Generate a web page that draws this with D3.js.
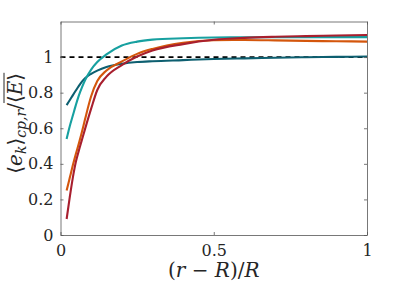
<!DOCTYPE html>
<html>
<head>
<meta charset="utf-8">
<script src="https://d3js.org/d3.v7.min.js"></script>
<style>
body { margin: 0; background: #fff; }
svg { display: block; }
.tick text { font-family: 'DejaVu Serif', serif; font-size: 16px; fill: #262626; }
.lab { font-family: 'DejaVu Serif', serif; fill: #262626; }
</style>
</head>
<body>
<div id="plot"></div>
<script>

var xVals = [0.02, 0.03, 0.04, 0.05, 0.06, 0.07, 0.08, 0.10, 0.12, 0.15, 0.20, 0.25, 0.30, 0.40, 0.50, 0.60, 0.70, 0.80, 0.90, 1.00];
var darkTeal = [0.73, 0.757, 0.785, 0.812, 0.838, 0.862, 0.881, 0.906, 0.924, 0.944, 0.962, 0.972, 0.977, 0.983, 0.989, 0.993, 0.996, 0.999, 1.001, 1.003];
var lightTeal = [0.54, 0.61, 0.67, 0.73, 0.785, 0.83, 0.87, 0.93, 0.972, 1.015, 1.065, 1.087, 1.098, 1.106, 1.110, 1.111, 1.112, 1.112, 1.112, 1.112];
var orange = [0.25, 0.32, 0.39, 0.455, 0.515, 0.58, 0.65, 0.78, 0.865, 0.925, 0.975, 1.018, 1.046, 1.081, 1.095, 1.096, 1.094, 1.091, 1.089, 1.087];
var red = [0.09, 0.21, 0.32, 0.41, 0.475, 0.535, 0.595, 0.71, 0.815, 0.89, 0.955, 1.003, 1.037, 1.073, 1.097, 1.108, 1.114, 1.118, 1.121, 1.124];

var seriesNames = ["darkTeal", "lightTeal", "orange", "red"];
var seriesValues = [darkTeal, lightTeal, orange, red];
var seriesColors = ["#0d5f70", "#17a0a0", "#d4560c", "#a81f2e"];

var xTicks = [0, 0.5, 1];
var xTickLabels = ["0", "0.5", "1"];
var yTicks = [0, 0.2, 0.4, 0.6, 0.8, 1];
var yTickLabels = ["0", "0.2", "0.4", "0.6", "0.8", "1"];
var refLevel = 1;

var width = 407, height = 291;
var plotLeft = 60.5, plotRight = 367, plotTop = 21.5, plotBottom = 235;

var svg = d3.select("#plot").append("svg")
  .attr("width", width).attr("height", height);

var xScale = d3.scaleLinear().domain([0, 1]).range([plotLeft, plotRight]);
var yScale = d3.scaleLinear().domain([0, 1.2]).range([plotBottom, plotTop]);

// dashed reference line
svg.append("line")
  .attr("x1", xScale(0)).attr("x2", xScale(1))
  .attr("y1", yScale(refLevel)).attr("y2", yScale(refLevel))
  .style("stroke", "#000").style("stroke-width", 1.6)
  .style("stroke-dasharray", "5,4");

var line = d3.line()
  .x(function(d) { return xScale(d[0]); })
  .y(function(d) { return yScale(d[1]); })
  .curve(d3.curveMonotoneX);

seriesValues.forEach(function(vals, i) {
  var pts = xVals.map(function(x, j) { return [x, vals[j]]; });
  svg.append("path")
    .attr("class", "curve " + seriesNames[i])
    .attr("d", line(pts))
    .style("fill", "none")
    .style("stroke", seriesColors[i])
    .style("stroke-width", 2.1);
});

// axes (box with inward ticks)
var axisColor = "#555";
var xAxis = svg.append("g").attr("transform", "translate(0," + plotBottom + ")")
  .call(d3.axisBottom(xScale).tickValues(xTicks)
    .tickFormat(function(d, i) { return xTickLabels[i]; })
    .tickSizeInner(-3).tickSizeOuter(0).tickPadding(7));
var yAxis = svg.append("g").attr("transform", "translate(" + plotLeft + ",0)")
  .call(d3.axisLeft(yScale).tickValues(yTicks)
    .tickFormat(function(d, i) { return yTickLabels[i]; })
    .tickSizeInner(-3).tickSizeOuter(0).tickPadding(7));
var xTop = svg.append("g").attr("transform", "translate(0," + plotTop + ")")
  .call(d3.axisTop(xScale).tickValues(xTicks).tickFormat("")
    .tickSizeInner(-3).tickSizeOuter(0));
var yRight = svg.append("g").attr("transform", "translate(" + plotRight + ",0)")
  .call(d3.axisRight(yScale).tickValues(yTicks).tickFormat("")
    .tickSizeInner(-3).tickSizeOuter(0));

[xAxis, yAxis, xTop, yRight].forEach(function(g) {
  g.selectAll("path, line").style("stroke", axisColor).style("stroke-width", 0.8);
});
xAxis.selectAll("text").attr("dy", "0.85em");

// x label
svg.append("text").attr("class", "lab")
  .attr("x", xScale(0.5)).attr("y", 277)
  .attr("text-anchor", "middle").style("font-size", "20px")
  .html('(<tspan font-style="italic">r</tspan> − <tspan font-style="italic">R</tspan>)/<tspan font-style="italic">R</tspan>');

// y label
var yl = svg.append("g").attr("transform", "translate(22," + ((plotTop + plotBottom) / 2 - 5) + ") rotate(-90)");
var ylText = yl.append("text").attr("class", "lab")
  .attr("text-anchor", "middle").style("font-size", "20px");
ylText.append("tspan").text("⟨");
ylText.append("tspan").attr("font-style", "italic").text("e");
ylText.append("tspan").attr("font-style", "italic").attr("dy", 4).style("font-size", "14px").text("k");
ylText.append("tspan").attr("dy", -4).text("⟩");
ylText.append("tspan").attr("font-style", "italic").attr("dy", 4).style("font-size", "14px").text("cp,r");
ylText.append("tspan").attr("dy", -4).text("/");
ylText.append("tspan").text("⟨");
ylText.append("tspan").attr("font-style", "italic").text("E");
ylText.append("tspan").text("⟩");

// overline over <E>
var tsp = ylText.selectAll("tspan").nodes();
var n = tsp.length;
var startX = tsp[n - 3].getStartPositionOfChar(0).x;
var endX = tsp[n - 1].getEndPositionOfChar(0).x;
yl.append("line")
  .attr("x1", startX).attr("x2", endX)
  .attr("y1", -18).attr("y2", -18)
  .style("stroke", "#262626").style("stroke-width", 1);

</script>
</body>
</html>
